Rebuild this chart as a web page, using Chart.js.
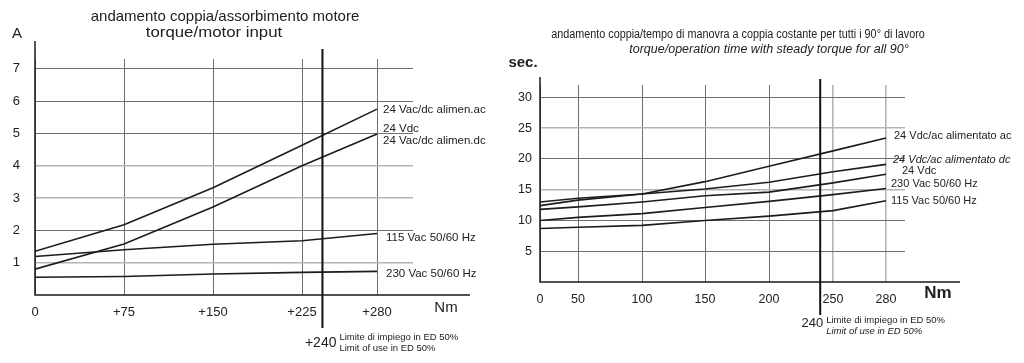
<!DOCTYPE html>
<html>
<head>
<meta charset="utf-8">
<script src="https://cdn.jsdelivr.net/npm/chart.js@4"></script>
<style>
body { margin: 0; background: #fff; }
canvas { position: absolute; top: 0; }
#leftChart { left: 0; }
#rightChart { left: 500px; }
</style>
</head>
<body>
<canvas id="leftChart" width="500" height="363"></canvas>
<canvas id="rightChart" width="524" height="363"></canvas>
<script>
// left chart: torque / motor input (A)
var leftTorque = [0, 75, 150, 225, 280];
var leftAmpTicks = [1, 2, 3, 4, 5, 6, 7];
var leftNames = [['24 Vac/dc alimen.ac'], ['24 Vdc', '24 Vac/dc alimen.dc'], ['115 Vac 50/60 Hz'], ['230 Vac 50/60 Hz']];
var leftAc = [1.35, 2.17, 3.32, 4.63, 5.75];
var leftDc = [0.80, 1.58, 2.72, 4.00, 4.98];
var left115 = [1.19, 1.40, 1.57, 1.68, 1.90];
var left230 = [0.55, 0.57, 0.65, 0.70, 0.73];

// right chart: torque / operation time (sec.)
var rightTorque = [0, 50, 100, 150, 200, 250, 280];
var rightSecTicks = [5, 10, 15, 20, 25, 30];
var rightNames = ['24 Vdc/ac alimentato ac', '24 Vdc/ac alimentato dc', '24 Vdc', '230 Vac 50/60 Hz', '115 Vac 50/60 Hz'];
var rightAc = [12.4, 13.3, 14.3, 16.3, 18.8, 21.3, 23.4];
var rightDc = [13.0, 13.6, 14.3, 15.1, 16.2, 17.9, 19.1];
var right24 = [11.8, 12.2, 13.0, 14.0, 14.6, 16.1, 17.5];
var right230 = [10.0, 10.5, 11.1, 12.1, 13.1, 14.2, 15.2];
var right115 = [8.7, 8.9, 9.2, 10.0, 10.7, 11.6, 13.2];

var limitTorque = 240;

var FONT = '"Liberation Sans", Arial, sans-serif';
Chart.defaults.font.family = FONT;
Chart.defaults.color = '#222';

// the drawings use uneven spacing between torque ticks, so a piecewise linear axis
var LinearScale = Chart.LinearScale || Chart.registry.getScale('linear');
class BrokenScale extends LinearScale {
    _dec(v) {
        var k = this.options.knots, w = this.options.widths;
        var total = 0, acc = 0, i = 0;
        for (var j = 0; j < w.length; j++) total += w[j];
        while (i < w.length - 1 && v > k[i + 1]) { acc += w[i]; i++; }
        return (acc + (v - k[i]) / (k[i + 1] - k[i]) * w[i]) / total;
    }
    getPixelForValue(v) {
        return this.getPixelForDecimal(this._dec(v));
    }
    getValueForPixel(p) {
        var d = this.getDecimalForPixel(p);
        var k = this.options.knots, w = this.options.widths;
        var total = 0, acc = 0;
        for (var j = 0; j < w.length; j++) total += w[j];
        for (var i = 0; i < w.length; i++) {
            var f = w[i] / total;
            if (d <= acc + f || i === w.length - 1) return k[i] + (d - acc) / f * (k[i + 1] - k[i]);
            acc += f;
        }
    }
}
BrokenScale.id = 'broken';
BrokenScale.defaults = {};
Chart.register(BrokenScale);

// text with optional horizontal squeeze/stretch
function drawText(ctx, t) {
    ctx.save();
    ctx.font = t.font + ' ' + FONT;
    ctx.translate(t.x, t.y);
    ctx.scale(t.sx || 1, 1);
    ctx.fillText(t.text, 0, 0);
    ctx.restore();
}

function makeOverlay(cfg) {
    return {
        id: 'overlay',
        afterDraw: function (chart) {
            var ctx = chart.ctx, a = chart.chartArea;
            var xs = chart.scales.x;
            ctx.save();
            // axes
            ctx.strokeStyle = '#1a1a1a';
            ctx.lineWidth = 1.5;
            ctx.beginPath();
            ctx.moveTo(a.left, a.top - cfg.axisUp);
            ctx.lineTo(a.left, a.bottom);
            ctx.lineTo(a.right + cfg.axisRight, a.bottom);
            ctx.stroke();
            // limit of use line
            var lx = xs.getPixelForValue(limitTorque);
            ctx.lineWidth = 2;
            ctx.strokeStyle = '#111';
            ctx.beginPath();
            ctx.moveTo(lx, a.top - cfg.limitUp);
            ctx.lineTo(lx, a.bottom + cfg.limitDown);
            ctx.stroke();

            ctx.fillStyle = '#222';
            ctx.textBaseline = 'middle';
            // limit labels
            ctx.textAlign = 'right';
            ctx.font = cfg.limitFont + ' ' + FONT;
            ctx.fillText(cfg.limitPrefix + limitTorque, lx + cfg.limitNumDx, cfg.limitNumY);
            ctx.textAlign = 'left';
            ctx.font = cfg.noteFont + ' ' + FONT;
            ctx.fillText('Limite di impiego in ED 50%', lx + cfg.noteDx, cfg.noteY[0]);
            ctx.font = cfg.noteFont2 + ' ' + FONT;
            ctx.fillText('Limit of use in ED 50%', lx + cfg.noteDx, cfg.noteY[1]);

            // titles and units
            ctx.textAlign = 'center';
            cfg.titles.forEach(function (t) { drawText(ctx, t); });
            cfg.units.forEach(function (t) { drawText(ctx, t); });

            // series labels at the line ends
            ctx.textAlign = 'left';
            chart.data.datasets.forEach(function (ds, i) {
                var last = ds.data[ds.data.length - 1];
                var px = xs.getPixelForValue(last.x);
                var py = chart.scales.y.getPixelForValue(last.y);
                var lines = [].concat(cfg.names[i]);
                lines.forEach(function (txt, j) {
                    ctx.font = (cfg.nameFonts[i] || cfg.nameFont) + ' ' + FONT;
                    ctx.fillText(txt, px + cfg.nameDx[i][j], py + cfg.nameDy[i][j]);
                });
            });
            ctx.restore();
        }
    };
}

function buildChart(id, o) {
    var series = o.series.map(function (s) {
        return {
            data: o.torque.map(function (t, i) { return { x: t, y: s[i] }; }),
            borderColor: '#1c1c1c',
            borderWidth: 1.6,
            pointRadius: 0,
            tension: 0,
            fill: false
        };
    });
    return new Chart(document.getElementById(id), {
        type: 'line',
        data: { datasets: series },
        options: {
            responsive: false,
            animation: false,
            devicePixelRatio: 1,
            layout: { padding: o.pad },
            plugins: { legend: { display: false }, tooltip: { enabled: false }, title: { display: false } },
            scales: {
                x: {
                    type: 'broken',
                    knots: o.knots,
                    widths: o.widths,
                    min: 0,
                    max: o.knots[o.knots.length - 1],
                    afterBuildTicks: function (s) { s.ticks = o.torque.map(function (v) { return { value: v }; }); },
                    afterFit: function (s) { s.height = o.xHeight; },
                    border: { display: false },
                    grid: {
                        drawTicks: false,
                        color: function (c) { return o.lightX.indexOf(c.tick.value) >= 0 ? '#b4b4b4' : '#6e6e6e'; },
                        lineWidth: function (c) { return o.lightX.indexOf(c.tick.value) >= 0 ? 1.6 : 1; }
                    },
                    ticks: {
                        autoSkip: false,
                        maxRotation: 0,
                        padding: o.xPad,
                        color: '#222',
                        font: { size: o.tickSize },
                        callback: o.xLabel
                    }
                },
                y: {
                    type: 'linear',
                    min: 0,
                    max: o.yMax,
                    afterBuildTicks: function (s) { s.ticks = o.yTicks.map(function (v) { return { value: v }; }); },
                    afterFit: function (s) { s.width = o.yWidth; },
                    border: { display: false },
                    grid: {
                        drawTicks: false,
                        color: function (c) { return o.lightY.indexOf(c.tick.value) >= 0 ? '#b4b4b4' : '#6e6e6e'; },
                        lineWidth: function (c) { return o.lightY.indexOf(c.tick.value) >= 0 ? 1.6 : 1; }
                    },
                    ticks: {
                        padding: o.yPad,
                        color: '#222',
                        font: { size: o.tickSize }
                    }
                }
            }
        },
        plugins: [makeOverlay(o.overlay)]
    });
}

buildChart('leftChart', {
    torque: leftTorque,
    series: [leftAc, leftDc, left115, left230],
    knots: [0, 75, 150, 225, 280, 306],
    widths: [89, 89, 89, 75, 36],
    yMax: 7.3,
    yTicks: leftAmpTicks,
    pad: { top: 59, right: 87, bottom: 0, left: 0 },
    xHeight: 68,
    yWidth: 35,
    xPad: 10,
    yPad: 15,
    tickSize: 13,
    lightX: [],
    lightY: [1, 3, 4],
    xLabel: function (v) { return v === 0 ? '0' : '+' + v; },
    overlay: {
        axisUp: 18, axisRight: 57, limitUp: 10, limitDown: 33,
        limitPrefix: '+', limitFont: '14px', limitNumDx: 14, limitNumY: 343,
        noteFont: '9.5px', noteFont2: '9.5px', noteDx: 17, noteY: [337, 348],
        titles: [
            { text: 'andamento coppia/assorbimento motore', x: 225, y: 17, font: '15px' },
            { text: 'torque/motor input', x: 214, y: 33, font: '15px', sx: 1.12 }
        ],
        units: [
            { text: 'A', x: 17, y: 34, font: '15px' },
            { text: 'Nm', x: 446, y: 308, font: '15px' }
        ],
        names: leftNames,
        nameFont: '11.5px',
        nameFonts: [],
        nameDx: [[6], [6, 6], [9], [9]],
        nameDy: [[1], [-5, 7], [4], [2]]
    }
});

buildChart('rightChart', {
    torque: rightTorque,
    series: [rightAc, rightDc, right24, right230, right115],
    knots: [0, 50, 100, 150, 200, 250, 280, 295],
    widths: [38, 64, 63, 64, 64, 53, 19],
    yMax: 32,
    yTicks: rightSecTicks,
    pad: { top: 85, right: 119, bottom: 0, left: 0 },
    xHeight: 81,
    yWidth: 40,
    xPad: 10,
    yPad: 8,
    tickSize: 12.5,
    lightX: [250, 280],
    lightY: [15, 25],
    xLabel: function (v) { return String(v); },
    overlay: {
        axisUp: 8, axisRight: 55, limitUp: 6, limitDown: 33,
        limitPrefix: '', limitFont: '13px', limitNumDx: 3, limitNumY: 323,
        noteFont: '9.5px', noteFont2: 'italic 9.5px', noteDx: 6, noteY: [320, 331],
        titles: [
            { text: 'andamento coppia/tempo di manovra a coppia costante per tutti i 90° di lavoro', x: 238, y: 35, font: '12px', sx: 0.9 },
            { text: 'torque/operation time with steady torque for all 90°', x: 269, y: 50, font: 'italic 12.5px' }
        ],
        units: [
            { text: 'sec.', x: 23, y: 63, font: 'bold 15px' },
            { text: 'Nm', x: 438, y: 293, font: 'bold 17px' }
        ],
        names: rightNames,
        nameFont: '11px',
        nameFonts: ['', 'italic 11px'],
        nameDx: [[8], [7], [16], [5], [5]],
        nameDy: [[-2], [-4], [-3], [-4], [0]]
    }
});
</script>
</body>
</html>
